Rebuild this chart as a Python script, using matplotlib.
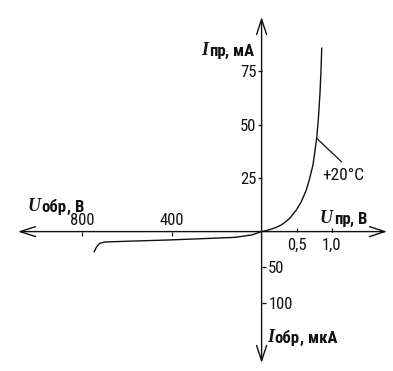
import numpy as np
import matplotlib
matplotlib.use('Agg')
import matplotlib.pyplot as plt
import matplotlib.font_manager as fm
from matplotlib.markers import TICKLEFT, TICKRIGHT, TICKUP, TICKDOWN

# forward branch: U (V), I (mA)
u_fwd = [0, 0.07, 0.139, 0.21, 0.281, 0.34, 0.401, 0.496, 0.567, 0.639, 0.687, 0.734,
         0.787, 0.81, 0.834, 0.849, 0.859]
i_fwd = [0, 0.5, 1.2, 2.0, 3.1, 4.5, 6.2, 10.1, 14.0, 19.5, 25.0, 31.2,
         43.7, 52.3, 64.8, 75.7, 85.9]
# reverse branch: U (V), I (uA)
u_rev = [0, 44, 118, 267, 415, 563, 697, 720, 734, 745]
i_rev = [0, 4.7, 8.0, 9.9, 11.7, 13.1, 14.5, 16.3, 21.1, 28.0]

xt_fwd = [0.5, 1.0]
xt_fwd_lab = ['0,5', '1,0']
xt_rev = [400, 800]
yt_fwd = [25, 50, 75]
yt_rev = [50, 100]   # uA
label_temp = '+20°C'

W, H = 393, 371
OX, OY = 261.6, 231.6          # origin in pixels
KX_F, KX_R = 70.0, 0.2247      # px per V
KY_F, KY_R = 2.135, 716.8      # px per mA


def find_narrow(weight):
    # look for a condensed / narrow sans face, else plain Liberation Sans
    def w_of(f):
        return f.weight if isinstance(f.weight, int) else fm.weight_dict.get(f.weight, 400)
    cands = [f for f in fm.fontManager.ttflist
             if f.style == 'normal' and
             (f.stretch not in ('normal', 500) or 'Narrow' in f.name or 'Condensed' in f.name)]
    for name in ['Liberation Sans Narrow', 'Arial Narrow', 'Roboto Condensed',
                 'Noto Sans', 'Open Sans', 'DejaVu Sans']:
        c = [f for f in cands if f.name == name]
        if c:
            c.sort(key=lambda f: abs(w_of(f) - weight))
            return fm.FontProperties(fname=c[0].fname), True
    return fm.FontProperties(family='Liberation Sans',
                             weight='bold' if weight > 500 else 'normal'), False


fp_reg, narrow = find_narrow(400)
fp_bold, _ = find_narrow(700)
fs = 12 if narrow else 11


def fprop(base, size):
    p = base.copy()
    p.set_size(size)
    return p


def fx(x):
    x = np.asarray(x, float)
    return np.where(x >= 0, x * KX_F, x * KX_R)


def fx_inv(p):
    p = np.asarray(p, float)
    return np.where(p >= 0, p / KX_F, p / KX_R)


def fy(y):
    y = np.asarray(y, float)
    return np.where(y >= 0, y * KY_F, y * KY_R)


def fy_inv(p):
    p = np.asarray(p, float)
    return np.where(p >= 0, p / KY_F, p / KY_R)


def P(x, y):
    # pixel position -> axes fraction
    return (x / W, 1 - y / H)


col = '#111111'
fig = plt.figure(figsize=(W / 100, H / 100), dpi=100)
ax = fig.add_axes([0, 0, 1, 1])
ax.set_xscale('function', functions=(fx, fx_inv))
ax.set_yscale('function', functions=(fy, fy_inv))
ax.set_xlim(float(fx_inv(-OX)), float(fx_inv(W - OX)))
ax.set_ylim(float(fy_inv(-(H - OY))), float(fy_inv(OY)))
ax.axis('off')

# axes with arrows
arr = dict(arrowstyle='<->, head_length=1.1, head_width=0.36', lw=1.0, color=col,
           shrinkA=0, shrinkB=0, mutation_scale=10)
ax.annotate('', xy=(P(387, 0)[0], 0), xytext=(P(18, 0)[0], 0),
            xycoords=('axes fraction', 'data'), textcoords=('axes fraction', 'data'),
            arrowprops=arr)
ax.annotate('', xy=(0, P(0, 17)[1]), xytext=(0, P(0, 363)[1]),
            xycoords=('data', 'axes fraction'), textcoords=('data', 'axes fraction'),
            arrowprops=arr)

# curve
ax.plot(u_fwd, i_fwd, color=col, lw=1.0)
ax.plot(-np.array(u_rev), -np.array(i_rev) / 1000, color=col, lw=1.0)

# ticks
tk = dict(ls='none', color=col, ms=3.2, mew=0.9)
ax.plot(xt_fwd, np.zeros(len(xt_fwd)), marker=TICKUP, **tk)
ax.plot(-np.array(xt_rev), np.zeros(len(xt_rev)), marker=TICKDOWN, **tk)
ax.plot(np.zeros(len(yt_fwd)), yt_fwd, marker=TICKLEFT, **tk)
ax.plot(np.zeros(len(yt_rev)), -np.array(yt_rev) / 1000, marker=TICKRIGHT, **tk)

tp = fprop(fp_reg, fs)
for v, s in zip(xt_fwd, xt_fwd_lab):
    ax.annotate(s, (v, 0), xytext=(0, -13), textcoords='offset points',
                ha='center', va='baseline', fontproperties=tp, color=col)
for v in xt_rev:
    ax.annotate(str(v), (-v, 0), xytext=(0, 4.8), textcoords='offset points',
                ha='center', va='baseline', fontproperties=tp, color=col)
for v in yt_fwd:
    ax.annotate(str(v), (0, v), xytext=(-3.8, -4.3), textcoords='offset points',
                ha='right', va='baseline', fontproperties=tp, color=col)
for v in yt_rev:
    ax.annotate(str(v), (0, -v / 1000), xytext=(4.8, -4.3), textcoords='offset points',
                ha='left', va='baseline', fontproperties=tp, color=col)

bp = fprop(fp_bold, 12 if narrow else 10.5)


def axis_label(x, y, main, sub, rest):
    t1 = ax.text(*P(x, y), main, transform=ax.transAxes, fontsize=13,
                 family='Liberation Serif', style='italic', weight='bold',
                 ha='left', va='baseline', color=col)
    t2 = ax.annotate(sub, xy=(1, 0), xycoords=t1, xytext=(0.5, 0),
                     textcoords='offset points', fontproperties=bp,
                     ha='left', va='bottom', color=col)
    ax.annotate(rest, xy=(1, 0), xycoords=t2, fontproperties=bp,
                ha='left', va='bottom', color=col)


axis_label(201, 55, 'I', 'пр', ', мА')
axis_label(28, 211.2, 'U', 'обр', ', В')
axis_label(320, 223.3, 'U', 'пр', ', В')
axis_label(267, 341.7, 'I', 'обр', ', мкА')

# temperature label with leader
ax.annotate('', xy=(u_fwd[12], i_fwd[12]), xytext=P(341.7, 162), textcoords='axes fraction',
            arrowprops=dict(arrowstyle='-', lw=0.9, color=col, shrinkA=0, shrinkB=0))
ax.text(*P(322, 180), label_temp, transform=ax.transAxes,
        fontproperties=fprop(fp_reg, fs + 0.5), ha='left', va='baseline', color=col)

fig.savefig('out.png', dpi=100)
